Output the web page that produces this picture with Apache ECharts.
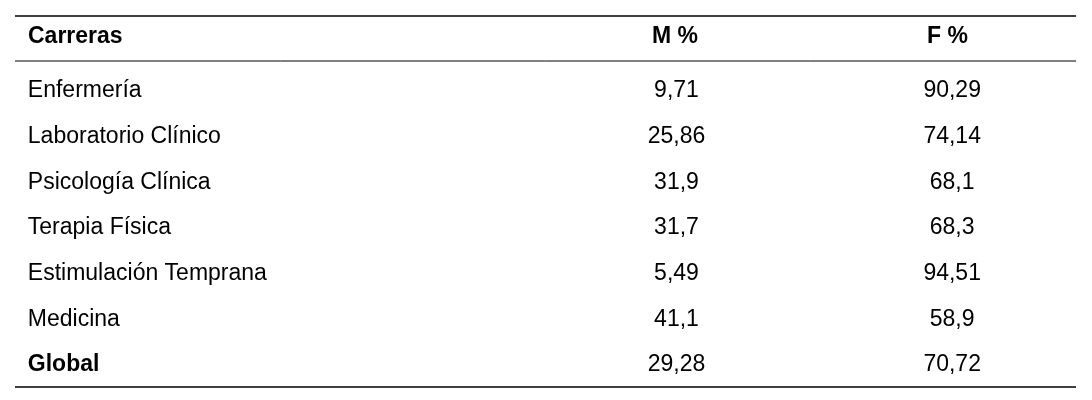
<!DOCTYPE html>
<html><head><meta charset="utf-8">
<script src="https://cdn.jsdelivr.net/npm/echarts@6/dist/echarts.min.js"></script>
<style>html,body{margin:0;background:#fff}#c{width:1092px;height:400px}</style>
</head><body><div id="c"></div>
<script>
const headers = ['Carreras', 'M %', 'F %'];
const careers = ['Enfermería','Laboratorio Clínico','Psicología Clínica','Terapia Física','Estimulación Temprana','Medicina','Global'];
const mPct = ['9,71','25,86','31,9','31,7','5,49','41,1','29,28'];
const fPct = ['90,29','74,14','68,1','68,3','94,51','58,9','70,72'];

const FONT = '"Liberation Sans Narrow", "Arial Narrow", "Liberation Sans", sans-serif';
const chart = echarts.init(document.getElementById('c'));
const cols = [careers, mPct, fPct];
const offsets = [-164, 131, 53];
const aligns = ['left', 'center', 'center'];
const series = cols.map((col, ci) => ({
  type: 'scatter', symbolSize: 0, silent: true,
  data: col.map((v, ri) => ({
    value: [headers[ci], careers[ri]], txt: v,
    label: { fontWeight: (ri === careers.length - 1 && ci === 0) ? 'bold' : 'normal' }
  })),
  label: { show: true, position: 'inside', align: aligns[ci], offset: [offsets[ci], 1],
    fontFamily: FONT, fontSize: 23, color: '#000', textBorderWidth: 0, opacity: 1,
    formatter: p => p.data.txt }
}));
chart.setOption({
  animation: false,
  grid: { left: 15, right: 16, top: 67, bottom: 13 },
  xAxis: { type: 'category', data: headers, show: false },
  yAxis: { type: 'category', data: careers, inverse: true, show: false },
  series,
  graphic: [
    { type: 'line', shape: { x1: 15, y1: 16, x2: 1076, y2: 16 }, style: { stroke: '#000', lineWidth: 1.5 } },
    { type: 'line', shape: { x1: 15, y1: 61, x2: 1076, y2: 61 }, style: { stroke: '#000', lineWidth: 1 } },
    { type: 'line', shape: { x1: 15, y1: 387, x2: 1076, y2: 387 }, style: { stroke: '#000', lineWidth: 1.5 } },
    ...headers.map((h, i) => ({ type: 'text', left: [28, 652, 927][i], top: 25,
      style: { text: h, font: 'bold 23px ' + FONT, fill: '#000' } }))
  ]
});
</script></body></html>
